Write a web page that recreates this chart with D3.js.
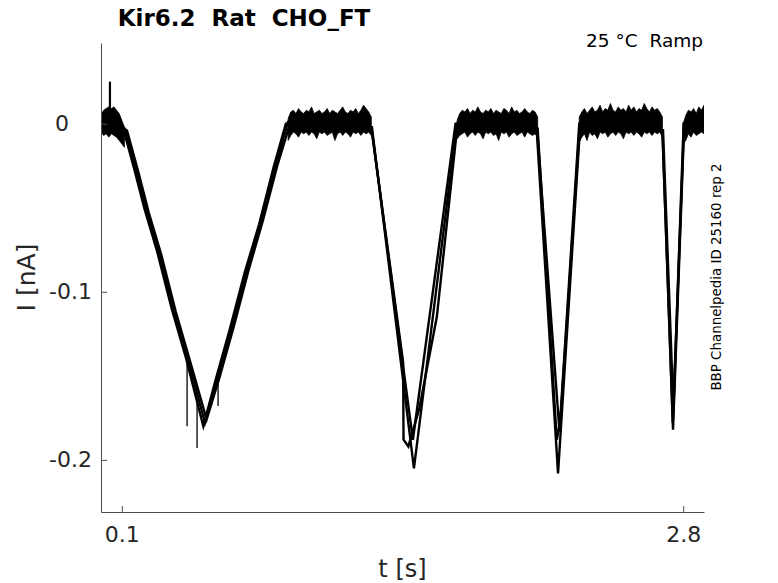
<!DOCTYPE html>
<html>
<head>
<meta charset="utf-8">
<script src="https://cdn.jsdelivr.net/npm/d3@7"></script>
<style>
  body { margin: 0; background: #fff; }
  svg { display: block; font-family: "DejaVu Sans", sans-serif; }
  .axis path, .axis line { stroke: #4d4d4d; }
  .axis text { fill: #262626; font-size: 22px; font-family: "DejaVu Sans", sans-serif; }
</style>
</head>
<body>
<div id="chart"></div>
<script>
// Ramp protocol, three overlaid sweeps (t in s, I in nA)
const sweepA = [[0, 0.001], [0.115, -0.003], [0.17, -0.028], [0.22, -0.052], [0.28, -0.077], [0.35, -0.111],
    [0.42, -0.141], [0.50, -0.178], [0.56, -0.152], [0.63, -0.121], [0.70, -0.088], [0.77, -0.059],
    [0.84, -0.025], [0.899, 0.001], [1.300, -0.002], [1.500, -0.188], [1.705, 0.000], [2.095, -0.003],
    [2.198, -0.208], [2.305, 0.0], [2.700, -0.004], [2.751, -0.182], [2.805, 0.0], [2.9, 0.001]];
const sweepB = [[0, 0.0], [0.125, -0.004], [0.18, -0.029], [0.23, -0.053], [0.29, -0.078], [0.36, -0.112],
    [0.43, -0.142], [0.508, -0.176], [0.57, -0.151], [0.64, -0.120], [0.71, -0.087], [0.78, -0.057],
    [0.85, -0.024], [0.909, 0.0], [1.303, -0.002], [1.505, -0.205], [1.712, 0.0], [2.097, -0.003],
    [2.205, -0.183], [2.300, 0.0], [2.703, -0.004], [2.753, -0.170], [2.802, 0.0], [2.9, 0.0]];
const sweepC = [[0, 0.0], [0.105, -0.002], [0.16, -0.027], [0.21, -0.051], [0.27, -0.076], [0.34, -0.110],
    [0.41, -0.140], [0.492, -0.180], [0.55, -0.153], [0.62, -0.122], [0.69, -0.089], [0.76, -0.060],
    [0.83, -0.026], [0.889, 0.0], [1.300, -0.002], [1.453, -0.142], [1.455, -0.188], [1.478, -0.192],
    [1.53, -0.170], [1.615, -0.115], [1.715, 0.0], [2.100, -0.003], [2.192, -0.188], [2.210, -0.176],
    [2.303, 0.0], [2.700, -0.004], [2.750, -0.178], [2.804, 0.0], [2.9, 0.0]];

// Noise envelope of the holding segments (sampled every flatStep s)
const flatStart = [0, 0.9, 1.7125, 2.3, 2.8];
const flatStep = 0.0125;
const flatHi1 = [0.005, 0.008, 0.009, 0.010, 0.009, 0.010, 0.008, 0.006, 0.002, -0.002];
const flatLo1 = [-0.005, -0.007, -0.006, -0.008, -0.006, -0.007, -0.008, -0.010, -0.012, -0.014];
const flatHi2 = [0.003, 0.007, 0.008, 0.006, 0.009, 0.007, 0.006, 0.008, 0.007, 0.010, 0.006, 0.007, 0.008,
    0.006, 0.007, 0.009, 0.006, 0.008, 0.007, 0.006, 0.008, 0.010, 0.007, 0.006, 0.008, 0.007, 0.009,
    0.006, 0.008, 0.011, 0.009, 0.007, 0.004];
const flatLo2 = [-0.010, -0.007, -0.005, -0.006, -0.008, -0.005, -0.006, -0.005, -0.007, -0.005, -0.006,
    -0.009, -0.005, -0.006, -0.005, -0.007, -0.006, -0.005, -0.010, -0.006, -0.005, -0.007, -0.005,
    -0.006, -0.008, -0.005, -0.006, -0.005, -0.007, -0.005, -0.006, -0.005, -0.007];
const flatHi3 = [0.002, 0.006, 0.008, 0.007, 0.009, 0.006, 0.008, 0.007, 0.010, 0.007, 0.006, 0.008, 0.007,
    0.009, 0.006, 0.008, 0.007, 0.006, 0.009, 0.008, 0.006, 0.010, 0.007, 0.008, 0.006, 0.007, 0.009,
    0.007, 0.006, 0.008, 0.007, 0.004];
const flatLo3 = [-0.009, -0.007, -0.006, -0.005, -0.008, -0.006, -0.005, -0.007, -0.005, -0.006, -0.009,
    -0.005, -0.006, -0.005, -0.007, -0.006, -0.010, -0.005, -0.006, -0.005, -0.008, -0.006, -0.005,
    -0.007, -0.006, -0.005, -0.008, -0.005, -0.006, -0.007, -0.006, -0.008];
const flatHi4 = [0.004, 0.007, 0.009, 0.006, 0.008, 0.010, 0.007, 0.008, 0.011, 0.007, 0.009, 0.008, 0.012,
    0.008, 0.007, 0.010, 0.008, 0.009, 0.007, 0.011, 0.008, 0.010, 0.007, 0.009, 0.008, 0.012, 0.009,
    0.007, 0.010, 0.008, 0.009, 0.007, 0.004];
const flatLo4 = [-0.011, -0.008, -0.006, -0.010, -0.005, -0.007, -0.006, -0.009, -0.005, -0.006, -0.005,
    -0.008, -0.006, -0.005, -0.007, -0.005, -0.006, -0.009, -0.005, -0.006, -0.005, -0.007, -0.005,
    -0.006, -0.008, -0.005, -0.006, -0.005, -0.007, -0.005, -0.006, -0.005, -0.008];
const flatHi5 = [0.000, 0.005, 0.008, 0.007, 0.009, 0.006, 0.010, 0.008, 0.011];
const flatLo5 = [-0.012, -0.010, -0.006, -0.008, -0.005, -0.007, -0.006, -0.005, -0.006];

// Single-sample artefacts
const spikeT = [0.043, 0.414, 0.462, 0.563];
const spikeFrom = [0.006, -0.142, -0.158, -0.151];
const spikeTo = [0.025, -0.180, -0.193, -0.168];

const xTicks = [0.1, 2.8];
const yTicks = [0, -0.1, -0.2];
const yTickLabels = ["0", "-0.1", "-0.2"];

document.addEventListener('DOMContentLoaded', () => {
    const margin = { top: 43, right: 74, bottom: 71, left: 101 };
    const width = 778 - margin.left - margin.right;
    const height = 583 - margin.top - margin.bottom;

    const root = d3.select("#chart")
        .append("svg")
        .attr("width", 778)
        .attr("height", 583);

    const svg = root.append("g")
        .attr("transform", `translate(${margin.left},${margin.top})`);

    const x = d3.scaleLinear().domain([0, 2.9]).range([0, width]);
    const y = d3.scaleLinear().domain([-0.231, 0.048]).range([height, 0]);

    svg.append("clipPath").attr("id", "plot-clip")
        .append("rect").attr("width", width).attr("height", height);

    const traces = svg.append("g").attr("clip-path", "url(#plot-clip)");

    // noise bands
    const flatHi = [flatHi1, flatHi2, flatHi3, flatHi4, flatHi5];
    const flatLo = [flatLo1, flatLo2, flatLo3, flatLo4, flatLo5];
    const bands = flatStart.map((t0, k) =>
        flatHi[k].map((hi, i) => ({ t: t0 + i * flatStep, hi: hi, lo: flatLo[k][i] })));

    const area = d3.area()
        .x(d => x(d.t))
        .y0(d => y(d.lo))
        .y1(d => y(d.hi));

    traces.selectAll(".band")
        .data(bands)
        .enter()
        .append("path")
        .attr("class", "band")
        .attr("d", area)
        .attr("fill", "#000")
        .attr("stroke", "#000")
        .attr("stroke-width", 0.8)
        .attr("stroke-linejoin", "miter");

    const line = d3.line()
        .x(d => x(d[0]))
        .y(d => y(d[1]));

    traces.selectAll(".sweep")
        .data([sweepA, sweepB, sweepC])
        .enter()
        .append("path")
        .attr("class", "sweep")
        .attr("d", line)
        .attr("fill", "none")
        .attr("stroke", "#000")
        .attr("stroke-width", 2.4)
        .attr("stroke-linejoin", "miter");

    traces.selectAll(".spike")
        .data(spikeT)
        .enter()
        .append("line")
        .attr("class", "spike")
        .attr("x1", d => x(d))
        .attr("x2", d => x(d))
        .attr("y1", (d, i) => y(spikeFrom[i]))
        .attr("y2", (d, i) => y(spikeTo[i]))
        .attr("stroke", "#000")
        .attr("stroke-width", (d, i) => i === 0 ? 2.2 : 1.3);

    // Axes (ticks point inward, MATLAB style)
    svg.append("g")
        .attr("class", "x-axis axis")
        .attr("transform", `translate(0,${height})`)
        .call(d3.axisBottom(x).tickValues(xTicks).tickFormat(d3.format(".1f"))
            .tickSizeInner(-6).tickSizeOuter(0).tickPadding(14));

    const yAxis = svg.append("g")
        .attr("class", "y-axis axis")
        .call(d3.axisLeft(y).tickValues(yTicks).tickFormat((d, i) => yTickLabels[i])
            .tickSizeInner(-6).tickSizeOuter(0).tickPadding(9));

    // the zero label sits further left in the original
    yAxis.selectAll(".tick text").filter(d => d === 0).attr("dx", -23);

    svg.selectAll(".axis path").attr("stroke-width", 1);

    // Labels
    svg.append("text")
        .attr("text-anchor", "middle")
        .attr("x", width / 2)
        .attr("y", height + 65)
        .attr("font-size", 24)
        .attr("fill", "#262626")
        .text("t [s]");

    svg.append("text")
        .attr("text-anchor", "middle")
        .attr("transform", "rotate(-90)")
        .attr("x", -height / 2)
        .attr("y", -66)
        .attr("font-size", 25)
        .attr("fill", "#262626")
        .text("I [nA]");

    root.append("text")
        .attr("text-anchor", "middle")
        .attr("x", 244)
        .attr("y", 26)
        .attr("font-size", 23)
        .attr("font-weight", "bold")
        .attr("fill", "#000")
        .style("white-space", "pre")
        .text("Kir6.2  Rat  CHO_FT");

    root.append("text")
        .attr("text-anchor", "end")
        .attr("x", 703)
        .attr("y", 47)
        .attr("font-size", 18.5)
        .attr("fill", "#000")
        .style("white-space", "pre")
        .text("25 \u00B0C  Ramp");

    root.append("text")
        .attr("text-anchor", "middle")
        .attr("transform", "translate(721,277) rotate(-90)")
        .attr("font-size", 13.4)
        .attr("fill", "#000")
        .text("BBP Channelpedia ID 25160 rep 2");
});
</script>
</body>
</html>
